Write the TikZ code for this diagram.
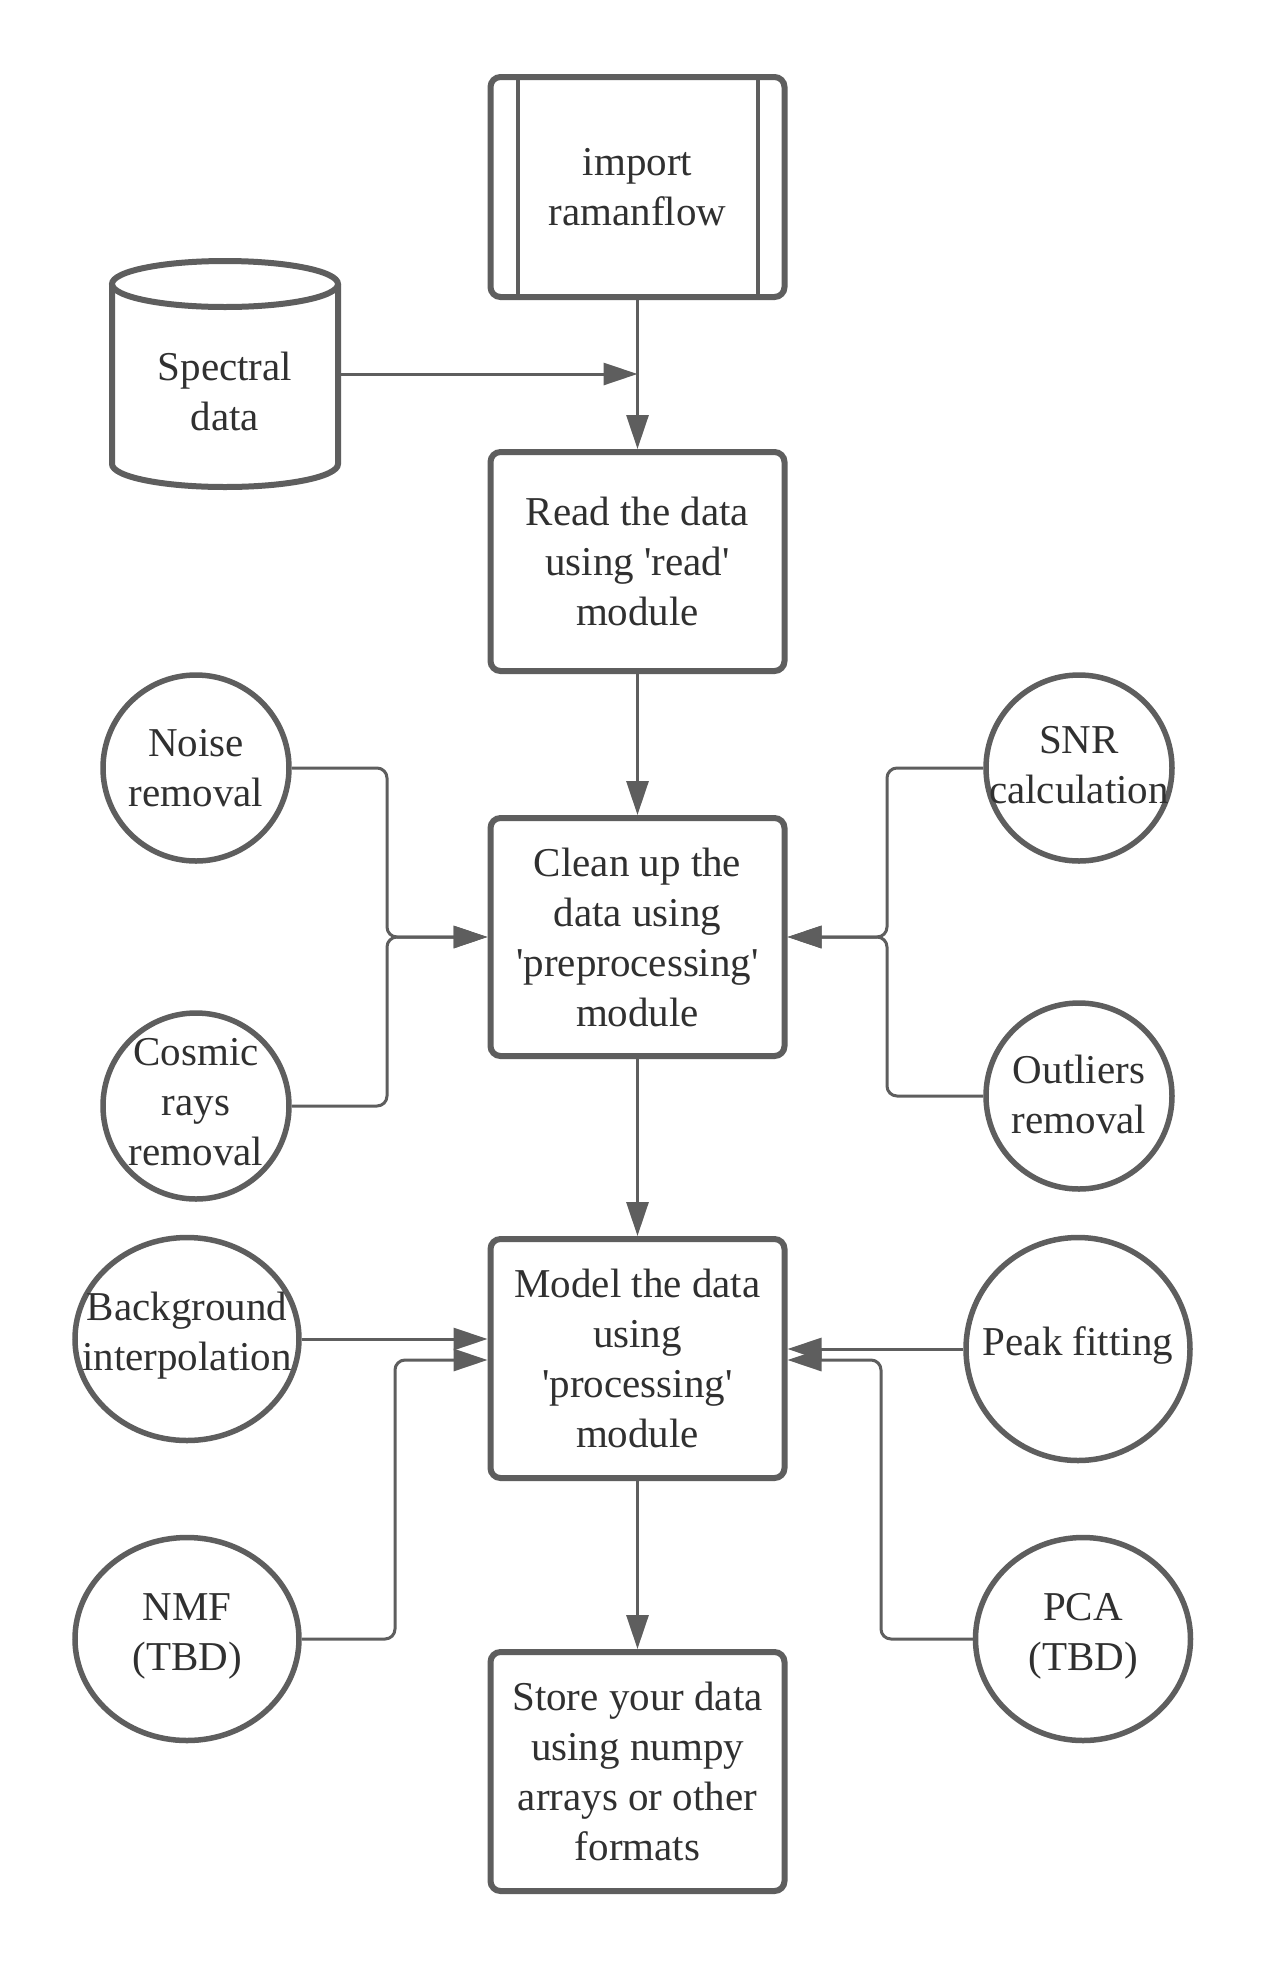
\documentclass[tikz,border=0pt]{standalone}
\usepackage{fontspec}
\setmainfont{LiberationSerif}[Extension=.ttf, UprightFont=*-Regular, BoldFont=*-Bold]
\usetikzlibrary{shapes.geometric,arrows.meta}
\definecolor{ln}{HTML}{5E5E5E}
\definecolor{tx}{HTML}{303030}
\newcommand{\qsg}{\textquotesingle}
\begin{document}
\begin{tikzpicture}[x=1pt,y=-1pt,
  txt/.style={font=\rmfamily\fontsize{41}{50}\selectfont, text=tx, align=center, inner sep=0pt},
  box/.style={draw=ln, line width=6pt, rounded corners=10pt, minimum width=294pt, inner sep=0pt},
  ell/.style={draw=ln, line width=5.5pt, ellipse, inner sep=0pt},
  conn/.style={draw=ln, line width=3pt, rounded corners=10pt, -{Triangle[length=34pt,width=22pt]}},
  thinline/.style={draw=ln, line width=4pt}
]
\fill[white] (0,0) rectangle (1266,1971);
\useasboundingbox (0,0) rectangle (1266,1971);

% main boxes
\node[box,txt,minimum height=220pt] (import) at (637.5,187) {import\\ramanflow};
\draw[thinline] ([xshift=30pt]import.north west) -- ([xshift=30pt]import.south west);
\draw[thinline] ([xshift=-30pt]import.north east) -- ([xshift=-30pt]import.south east);
\node[box,txt,minimum height=219pt] (read) at (637.5,561.5) {Read the data\\using \qsg read\qsg\\module};
\node[box,txt,minimum height=238pt] (clean) at (637.5,937) {Clean up the\\data using\\\qsg preprocessing\qsg\\module};
\node[box,txt,minimum height=239pt] (model) at (637.5,1358.5) {Model the data\\using\\\qsg processing\qsg\\module};
\node[box,txt,minimum height=239pt] (store) at (637.5,1771.5) {Store your data\\using numpy\\arrays or other\\formats};

% cylinder
\node[minimum width=226pt, minimum height=226pt, inner sep=0pt] (spec) at (225,374) {};
\draw[ln, line width=6pt] (112,284) -- (112,464) arc[start angle=180, end angle=0, x radius=113, y radius=23] -- (338,284);
\draw[ln, line width=6pt] (225,284) ellipse [x radius=113, y radius=23];
\node[txt] (specT) at (225,391) {Spectral\\data};

% side ellipses
\node[ell, minimum width=186pt, minimum height=186pt] (noise) at (196,768) {};
\node[txt] (noiseT) at (noise) {Noise\\removal};
\node[ell, minimum width=186pt, minimum height=186pt] (cosmic) at (196,1106) {};
\node[txt] (cosmicT) at (196,1102) {Cosmic\\rays\\removal};
\node[ell, minimum width=186pt, minimum height=186pt] (snr) at (1079,768) {};
\node[txt] (snrT) at (1079,765) {SNR\\calculation};
\node[ell, minimum width=186pt, minimum height=186pt] (outl) at (1079,1096) {};
\node[txt] (outlT) at (1079,1094) {Outliers\\removal};
\node[ell, minimum width=224pt, minimum height=203pt] (bg) at (187,1339) {};
\node[txt] (bgT) at (187,1336) {Background\\interpolation};
\node[ell, minimum width=224pt, minimum height=223pt] (peak) at (1078,1349) {};
\node[txt] (peakT) at (1078,1345) {Peak fitting};
\node[ell, minimum width=224pt, minimum height=203pt] (nmf) at (187,1639) {};
\node[txt] (nmfT) at (187,1636) {NMF\\(TBD)};
\node[ell, minimum width=215pt, minimum height=203pt] (pca) at (1083,1639) {};
\node[txt] (pcaT) at (1083,1636) {PCA\\(TBD)};

% bus points
\coordinate (lb) at (387,937);
\coordinate (rb) at (887,937);
\coordinate (nb) at (395,1360);
\coordinate (pb) at (881,1360);

% connectors
\draw[conn] (import.south) -- (read.north);
\draw[conn] (spec.east) -- (spec.east -| import.south);
\draw[conn] (read.south) -- (clean.north);
\draw[conn] (clean.south) -- (model.north);
\draw[conn] (model.south) -- (store.north);

\draw[conn] (noise.east) -| (lb) -- (clean.west);
\draw[conn] (cosmic.east) -| (lb) -- (clean.west);
\draw[conn] (snr.west) -| (rb) -- (clean.east);
\draw[conn] (outl.west) -| (rb) -- (clean.east);

\draw[conn] (bg.east) -- (bg.east -| model.west);
\draw[conn] (nmf.east) -| (nb) -- (nb -| model.west);
\draw[conn] (peak.west) -- (peak.west -| model.east);
\draw[conn] (pca.west) -| (pb) -- (pb -| model.east);
\end{tikzpicture}
\end{document}
